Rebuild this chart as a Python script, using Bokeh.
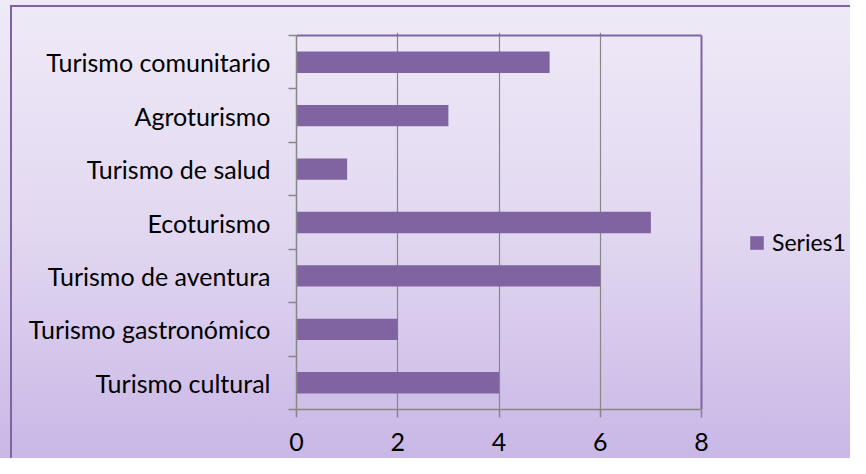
from bokeh.plotting import figure
from bokeh.models import FixedTicker, InlineStyleSheet, Range1d
from bokeh.embed import file_html
from bokeh.resources import INLINE

categories = ["Turismo cultural", "Turismo gastronómico", "Turismo de aventura",
              "Ecoturismo", "Turismo de salud", "Agroturismo", "Turismo comunitario"]
values = [4, 2, 6, 7, 1, 3, 5]
x_ticks = [0, 2, 4, 6, 8]
series_name = "Series1"

n = len(categories)
centers = [i + 0.5 for i in range(n)]
bounds = list(range(n + 1))
x_max = x_ticks[-1]

FONT = "Lato"
FS = "25px"
PURPLE = "#8064A2"
GREY = "#878787"

W, H = 850, 458
left_px, top_plot_px, bottom_px = 296, 35, 49
plot_w_px = 405                 # width of the plot area (0..8)
plot_h_px = H - top_plot_px - bottom_px
top_px = 32                     # frame slightly taller so the top border is not clipped
frame_w = W - left_px
frame_h = H - top_px - bottom_px
x_end = x_max * frame_w / plot_w_px
y_end = n * frame_h / plot_h_px

p = figure(width=W, height=H, output_backend="svg", toolbar_location=None,
           x_range=Range1d(0, x_end), y_range=Range1d(0, y_end),
           min_border_left=left_px, min_border_right=0, min_border_top=top_px,
           min_border_bottom=bottom_px)

css = (":host { background: "
       "linear-gradient(#8064A2, #8064A2) 10px 5px / 2px 100% no-repeat, "
       "linear-gradient(#8064A2, #8064A2) 10px 5px / 100% 2px no-repeat, "
       "linear-gradient(180deg, #EFEAF7 0%, #E2D8F1 50%, #C9B7E6 100%); }")
p.stylesheets = [InlineStyleSheet(css=css)]
p.border_fill_alpha = 0
p.background_fill_alpha = 0
p.outline_line_color = None

# plot-area border (top and right)
p.segment(x0=[0, x_max], y0=[n, 0], x1=[x_max, x_max], y1=[n, n],
          line_color=PURPLE, line_width=2)

p.hbar(y=centers, right=values, left=0, height=0.4, fill_color=PURPLE,
       line_color=None, legend_label=series_name)

# x axis
xa = p.xaxis[0]
xa.bounds = (0, x_max)
xa.ticker = FixedTicker(ticks=x_ticks)
xa.axis_line_color = GREY
xa.axis_line_width = 1.5
xa.major_tick_line_color = GREY
xa.major_tick_line_width = 1.5
xa.major_tick_out = 8
xa.major_tick_in = 0
xa.minor_tick_line_color = None
xa.major_label_text_font = FONT
xa.major_label_text_font_size = FS
xa.major_label_text_color = "#000000"
xa.major_label_standoff = 15

# y axis
ya = p.yaxis[0]
ya.bounds = (0, n)
ya.ticker = FixedTicker(ticks=centers, minor_ticks=bounds)
ya.major_label_overrides = {c: name for c, name in zip(centers, categories)}
ya.axis_line_color = GREY
ya.axis_line_width = 1.5
ya.major_tick_line_color = None
ya.major_tick_out = 8
ya.major_tick_in = 0
ya.minor_tick_line_color = GREY
ya.minor_tick_line_width = 1.5
ya.minor_tick_out = 8
ya.minor_tick_in = 0
ya.major_label_text_font = FONT
ya.major_label_text_font_size = FS
ya.major_label_text_color = "#000000"
ya.major_label_standoff = 18

p.xgrid.ticker = FixedTicker(ticks=x_ticks[1:-1])
p.xgrid.bounds = (0, n)
p.xgrid.grid_line_color = GREY
p.xgrid.grid_line_width = 1.2
p.ygrid.grid_line_color = None

lg = p.legend[0]
lg.location = (452, 153)
lg.padding = 0
lg.margin = 0
lg.spacing = 0
lg.glyph_width = 17
lg.glyph_height = 17
lg.label_standoff = 7
lg.label_text_font = FONT
lg.label_text_font_size = "23px"
lg.label_text_color = "#000000"
lg.border_line_alpha = 0
lg.background_fill_alpha = 0

open("out.html", "w").write(file_html(p, INLINE))
